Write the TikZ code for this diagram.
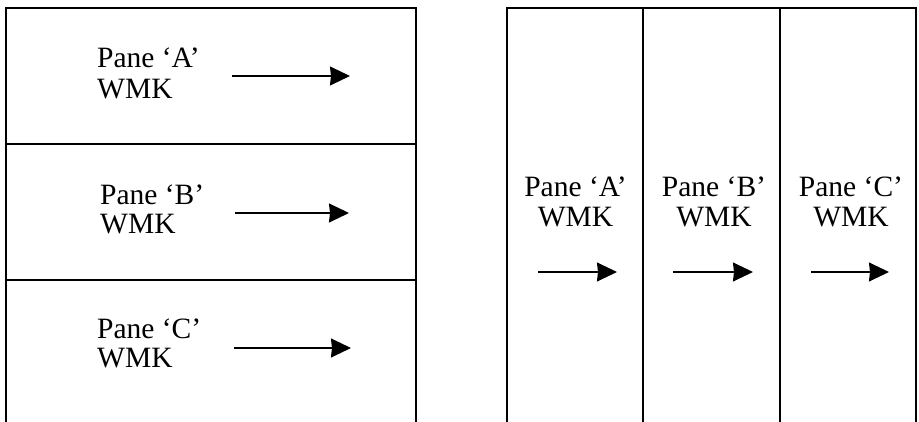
\documentclass[tikz,border=0pt]{standalone}
\usepackage{fontspec}
\setmainfont{Liberation Serif}
\usetikzlibrary{arrows.meta}
\begin{document}
\begin{tikzpicture}[x=1pt,y=-1pt,
  frame/.style={line width=1.6pt},
  lbl/.style={inner sep=0pt,font=\fontsize{29.5}{30}\selectfont},
  warrow/.style={line width=1.5pt,-{Stealth[inset=1pt,length=20pt,width=19pt]}}]
\useasboundingbox (0,0) rectangle (919,422);
% left frame
\draw[frame] (6,422) -- (6,8) -- (416,8) -- (416,422);
\draw[frame] (6,144) -- (416,144);
\draw[frame] (6,280) -- (416,280);
% right frame
\draw[frame] (507,422) -- (507,8) -- (916,8) -- (916,422);
\draw[frame] (643,8) -- (643,422);
\draw[frame] (780,8) -- (780,422);
% left labels
\node[lbl,anchor=base west] (lpa) at (97,68) {Pane ‘A’};
\node[lbl,anchor=base west] (lwa) at (97,99) {WMK};
\node[lbl,anchor=base west] (lpb) at (100,205) {Pane ‘B’};
\node[lbl,anchor=base west] (lwb) at (100,234) {WMK};
\node[lbl,anchor=base west] (lpc) at (97,338) {Pane ‘C’};
\node[lbl,anchor=base west] (lwc) at (97,367) {WMK};
% right labels
\node[lbl,anchor=base] (rpa) at (575.5,197) {Pane ‘A’};
\node[lbl,anchor=base] (rwa) at (575.5,227) {WMK};
\node[lbl,anchor=base] (rpb) at (714,197) {Pane ‘B’};
\node[lbl,anchor=base] (rwb) at (714,227) {WMK};
\node[lbl,anchor=base] (rpc) at (851,197) {Pane ‘C’};
\node[lbl,anchor=base] (rwc) at (851,227) {WMK};
% arrow end points
\coordinate (la1) at (232,76);  \coordinate (la2) at (350,76);
\coordinate (lb1) at (235,213); \coordinate (lb2) at (349,213);
\coordinate (lc1) at (234,348); \coordinate (lc2) at (351,348);
\coordinate (ra1) at (538,272); \coordinate (ra2) at (617,272);
\coordinate (rb1) at (673,272); \coordinate (rb2) at (753,272);
\coordinate (rc1) at (811,272); \coordinate (rc2) at (889,272);
\draw[warrow] (la1) -- (la2);
\draw[warrow] (lb1) -- (lb2);
\draw[warrow] (lc1) -- (lc2);
\draw[warrow] (ra1) -- (ra2);
\draw[warrow] (rb1) -- (rb2);
\draw[warrow] (rc1) -- (rc2);
\end{tikzpicture}
\end{document}
